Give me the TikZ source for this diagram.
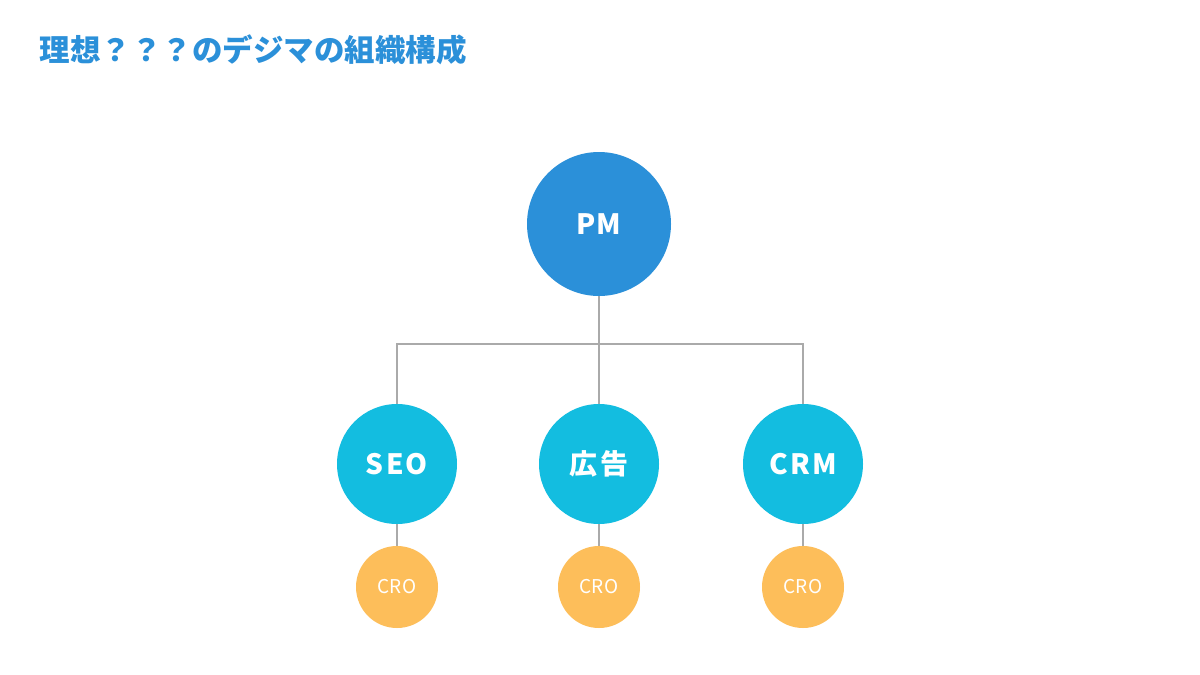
\documentclass[tikz,border=0pt]{standalone}
\usepackage{fontspec}
\setmainfont{Noto Sans CJK JP}
\definecolor{pmblue}{HTML}{2B90D9}
\definecolor{teamcyan}{HTML}{13BDE0}
\definecolor{croorange}{HTML}{FDBE5A}
\definecolor{linkgray}{HTML}{AAAAAA}
\begin{document}
\begin{tikzpicture}[x=1pt,y=-1pt,
    pm/.style={circle,fill=pmblue,minimum size=144pt,inner sep=0pt,text=white,font=\fontsize{28}{30}\selectfont\bfseries\addfontfeatures{LetterSpace=4}},
    team/.style={circle,fill=teamcyan,minimum size=120pt,inner sep=0pt,text=white,font=\fontsize{28}{30}\selectfont\bfseries\addfontfeatures{LetterSpace=8}},
    cro/.style={circle,fill=croorange,minimum size=82pt,inner sep=0pt,text=white,font=\fontsize{19}{22}\selectfont},
    link/.style={draw=linkgray,line width=2pt}]
                \useasboundingbox[fill=white] (0,0) rectangle (1200,675);

                \node[anchor=base west,text=pmblue,font=\fontsize{30.5}{33}\selectfont\bfseries] (title) at (36,61) {理想？？？のデジマの組織構成};

                \node[pm] (pm) at (599,224) {PM};
                \node[team] (seo) at (397,464) {SEO};
                \node[team] (ad) at (599,464) {広告};
                \node[team] (crm) at (803,464) {CRM};
                \node[cro] (cro1) at (397,587) {CRO};
                \node[cro] (cro2) at (599,587) {CRO};
                \node[cro] (cro3) at (803,587) {CRO};

                \coordinate (bus) at (599,344);

                \draw[link] (pm) -- (bus);
                \draw[link] (seo.north) |- (bus) -| (crm.north);
                \draw[link] (bus) -- (ad.north);
                \draw[link] (seo) -- (cro1);
                \draw[link] (ad) -- (cro2);
                \draw[link] (crm) -- (cro3);

            \end{tikzpicture}
\end{document}
